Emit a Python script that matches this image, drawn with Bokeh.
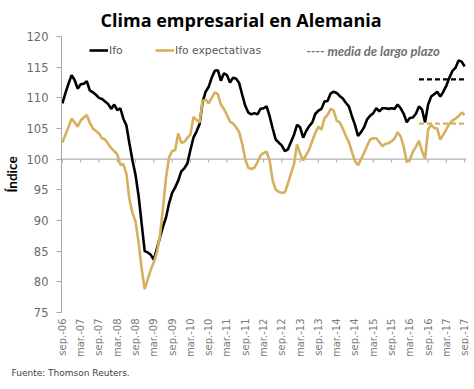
from math import pi
from bokeh.plotting import figure
from bokeh.models import Range1d, FixedTicker, Legend, LegendItem, Label, Span, Title
from bokeh.embed import file_html
from bokeh.resources import INLINE

# ---- data (monthly, sep-06 .. sep-17) ----
tick_labels = ["sep.-06", "mar.-07", "sep.-07", "mar.-08", "sep.-08", "mar.-09",
               "sep.-09", "mar.-10", "sep.-10", "mar.-11", "sep.-11", "mar.-12",
               "sep.-12", "mar.-13", "sep.-13", "mar.-14", "sep.-14", "mar.-15",
               "sep.-15", "mar.-16", "sep.-16", "mar.-17", "sep.-17"]

ifo = [109.1, 110.8, 112.3, 113.7, 112.9, 111.5, 112.2, 112.3, 112.7, 111.2, 110.9, 110.5,
       110.0, 109.8, 109.4, 109.0, 108.2, 108.9, 108.0, 108.3, 106.6, 105.5, 102.5, 99.8,
       97.4, 94.0, 89.5, 85.0, 84.8, 84.4, 83.6, 85.4, 87.2, 89.0, 90.5, 92.8,
       94.5, 95.4, 96.5, 98.0, 98.5, 99.3, 101.5, 103.5, 104.5, 105.7, 109.3, 111.0,
       111.8, 113.3, 114.4, 114.5, 112.8, 114.0, 113.7, 112.5, 113.3, 113.1, 112.4, 110.5,
       108.7, 107.6, 107.3, 107.5, 107.3, 108.2, 108.3, 108.6, 107.0, 105.0, 103.2, 102.7,
       102.2, 101.3, 101.6, 102.8, 104.0, 105.6, 105.2, 103.5, 104.6, 105.4, 106.0, 107.4,
       107.9, 108.2, 109.4, 109.5, 110.7, 111.0, 110.8, 110.3, 109.9, 109.2, 108.6, 107.0,
       105.6, 103.8, 104.4, 105.2, 106.5, 107.1, 107.5, 108.3, 107.8, 108.3, 108.3, 108.2,
       108.3, 108.2, 108.9, 108.3, 107.4, 106.0, 106.7, 106.8, 107.4, 108.6, 108.1, 106.0,
       108.9, 110.2, 110.6, 111.0, 110.2, 111.0, 112.0, 113.3, 114.4, 114.9, 116.1, 115.9, 115.1]

ifo_expectativas = [102.7, 104.0, 105.2, 106.6, 106.0, 105.3, 106.3, 106.8, 107.2, 105.9, 105.0, 104.6,
                    104.2, 103.4, 103.2, 102.5, 101.8, 101.3, 100.8, 99.1, 99.2, 97.6, 93.4, 91.2,
                    89.8, 86.4, 82.2, 78.8, 80.4, 82.0, 83.2, 84.8, 87.5, 92.0, 97.0, 100.3,
                    101.3, 101.5, 104.2, 102.7, 102.8, 103.5, 104.0, 106.9, 106.4, 106.0, 109.5, 109.7,
                    109.1, 110.0, 110.9, 110.6, 108.9, 108.2, 107.2, 106.1, 105.8, 105.2, 104.4, 102.5,
                    100.0, 98.6, 98.4, 98.6, 99.5, 100.6, 101.0, 101.2, 99.8, 96.5, 95.0, 94.7,
                    94.5, 94.6, 96.0, 97.7, 99.2, 102.4, 100.9, 99.8, 100.7, 101.6, 103.0, 104.3,
                    105.3, 104.8, 106.7, 107.2, 108.2, 107.9, 106.3, 106.0, 105.0, 103.8, 102.8, 101.2,
                    99.7, 99.0, 100.0, 101.0, 102.2, 103.2, 103.4, 103.4, 102.8, 102.1, 102.5, 102.6,
                    102.9, 103.4, 104.4, 103.7, 102.0, 99.5, 99.9, 101.2, 102.0, 103.0, 101.3, 100.1,
                    104.8, 105.6, 105.1, 105.0, 103.2, 104.0, 104.9, 105.8, 106.3, 106.6, 107.0, 107.6, 107.2]

media_ifo = 113.0
media_expectativas = 105.8
media_months = [117, 132]   # month index span of the long-term average markers

months = list(range(len(ifo)))
tick_pos = list(range(0, len(ifo), 6))

BLACK = "#000000"
GOLD = "#D6B05C"
GREY = "#595959"

p = figure(frame_width=405, frame_height=276, output_backend="svg", toolbar_location=None,
           x_range=Range1d(-0.3, 132.6), y_range=Range1d(75, 120),
           min_border_left=50, min_border_right=3, min_border_top=31, min_border_bottom=66)
p.outline_line_color = None
p.grid.grid_line_color = None
p.background_fill_color = "white"
p.border_fill_color = "white"

# title
p.title.text = "Clima empresarial en Alemania"
p.title.text_font = "Open Sans"
p.title.text_font_style = "bold"
p.title.text_font_size = "18px"
p.title.text_color = "#000000"
p.title.align = "left"
p.title.offset = 39

# y axis
p.yaxis.ticker = FixedTicker(ticks=list(range(75, 121, 5)))
p.yaxis.axis_line_color = "#A6A6A6"
p.yaxis.major_tick_line_color = "#A6A6A6"
p.yaxis.major_tick_out = 5
p.yaxis.major_tick_in = 0
p.yaxis.minor_tick_line_color = None
p.yaxis.major_label_text_font = "DejaVu Sans"
p.yaxis.major_label_text_font_size = "11.5px"
p.yaxis.major_label_text_color = "#6a6a6a"
p.yaxis.major_label_standoff = 8
p.yaxis.axis_label = "Índice"
p.yaxis.axis_label_text_font = "Lato"
p.yaxis.axis_label_text_font_style = "bold"
p.yaxis.axis_label_text_font_size = "13.5px"
p.yaxis.axis_label_text_color = "#000000"
p.yaxis.axis_label_standoff = 4

# x axis (labels only at bottom)
p.xaxis.ticker = FixedTicker(ticks=tick_pos)
p.xaxis.major_label_overrides = {t: l for t, l in zip(tick_pos, tick_labels)}
p.xaxis.major_label_orientation = pi / 2
p.xaxis.axis_line_color = None
p.xaxis.major_tick_line_color = None
p.xaxis.minor_tick_line_color = None
p.xaxis.major_tick_out = 0
p.xaxis.major_tick_in = 0
p.xaxis.minor_tick_out = 0
p.xaxis.major_label_text_font = "DejaVu Sans"
p.xaxis.major_label_text_font_size = "10px"
p.xaxis.major_label_text_color = "#7a7a7a"
p.xaxis.major_label_standoff = 6

# horizontal line at 100 with tick marks
base = Span(location=100, dimension="width", line_color="#B0B0B0", line_width=1.2, level="underlay")
p.add_layout(base)
p.segment(x0=tick_pos, y0=[100] * len(tick_pos), x1=tick_pos, y1=[99.45] * len(tick_pos),
          line_color="#B0B0B0", line_width=1.2)

# series
r_ifo = p.line(months, ifo, line_color=BLACK, line_width=2.6)
r_exp = p.line(months, ifo_expectativas, line_color=GOLD, line_width=2.6)

# long-term average markers
p.line(media_months, [media_ifo] * 2, line_color=BLACK, line_width=2.2, line_dash="5 3")
p.line(media_months, [media_expectativas] * 2, line_color=GOLD, line_width=2.2, line_dash="5 3")

# legend
legend = Legend(items=[LegendItem(label="Ifo", renderers=[r_ifo]),
                       LegendItem(label="Ifo expectativas", renderers=[r_exp])],
                orientation="horizontal", location=(28, 252),
                border_line_color=None, background_fill_alpha=0,
                padding=0, margin=0, spacing=26, label_standoff=1,
                glyph_width=19, glyph_height=20, label_height=20,
                label_text_font="DejaVu Sans", label_text_font_size="10.8px",
                label_text_color=GREY)
p.add_layout(legend)

p.add_layout(Label(x=80.1, y=117.7, text="---- media de largo plazo",
                   text_font="Lato", text_font_style="bold italic", text_font_size="13px",
                   text_color="#707070", text_baseline="middle", text_align="left"))

# source
src = Title(text="Fuente: Thomson Reuters.", align="left", offset=-50, standoff=11,
            text_font="DejaVu Sans", text_font_style="normal", text_font_size="9px",
            text_color="#404040")
p.add_layout(src, "below")

open("out.html", "w").write(file_html(p, INLINE))
